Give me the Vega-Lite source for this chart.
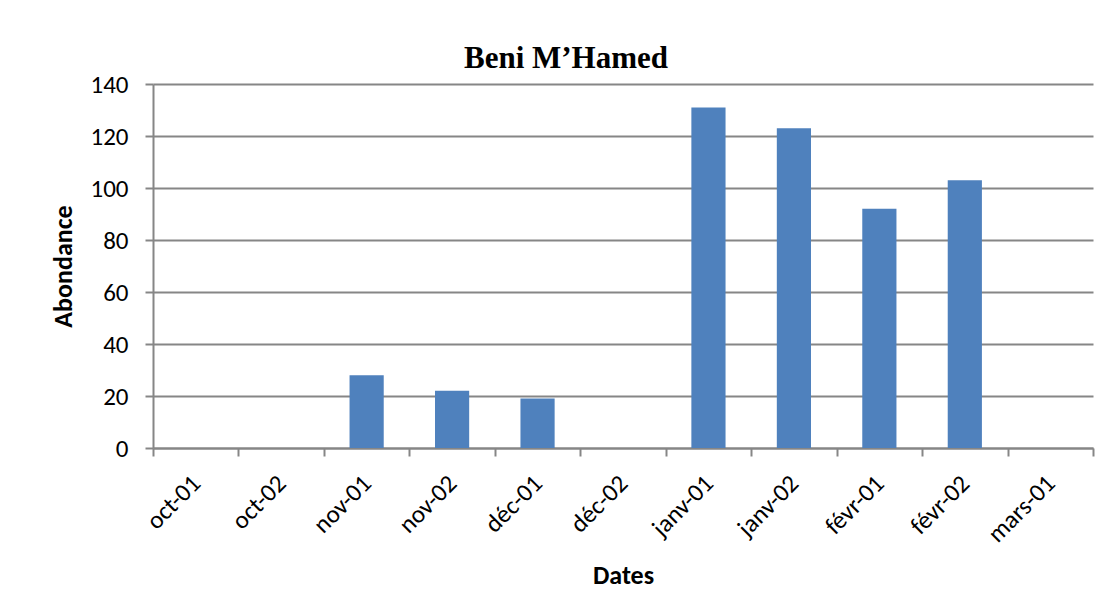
{
  "$schema": "https://vega.github.io/schema/vega-lite/v6.json",
  "width": 940,
  "height": 364,
  "autosize": {"type": "none"},
  "padding": {"left": 153, "top": 84, "right": 17, "bottom": 157},
  "background": "white",
  "title": {
    "text": "Beni M’Hamed",
    "font": "Liberation Serif",
    "fontSize": 31,
    "fontWeight": "bold",
    "color": "black",
    "anchor": "middle",
    "dx": -57,
    "offset": -3
  },
  "data": {
    "values": [
      {"date": "oct-01", "abondance": 0},
      {"date": "oct-02", "abondance": 0},
      {"date": "nov-01", "abondance": 28},
      {"date": "nov-02", "abondance": 22},
      {"date": "déc-01", "abondance": 19},
      {"date": "déc-02", "abondance": 0},
      {"date": "janv-01", "abondance": 131},
      {"date": "janv-02", "abondance": 123},
      {"date": "févr-01", "abondance": 92},
      {"date": "févr-02", "abondance": 103},
      {"date": "mars-01", "abondance": 0}
    ]
  },
  "mark": {"type": "bar", "color": "#4F81BD", "width": {"band": 0.4}},
  "encoding": {
    "x": {
      "field": "date",
      "type": "nominal",
      "sort": null,
      "scale": {"paddingInner": 0, "paddingOuter": 0},
      "axis": {
        "title": "Dates",
        "titleFont": "Carlito, Noto Sans",
        "titleFontSize": 26,
        "titleFontWeight": "bold",
        "titleColor": "black",
        "titlePadding": 16,
        "labelAngle": -45,
        "labelAlign": "right",
        "labelBaseline": "middle",
        "labelFont": "Carlito, Noto Sans",
        "labelFontSize": 25,
        "labelColor": "black",
        "labelPadding": 23,
        "tickBand": "extent",
        "ticks": true,
        "tickSize": 8,
        "tickColor": "#868686",
        "tickWidth": 2,
        "domainColor": "#868686",
        "domainWidth": 2,
        "grid": false
      }
    },
    "y": {
      "field": "abondance",
      "type": "quantitative",
      "scale": {"domain": [0, 140], "nice": false},
      "axis": {
        "title": "Abondance",
        "titleFont": "Carlito, Noto Sans",
        "titleFontSize": 26,
        "titleFontWeight": "bold",
        "titleColor": "black",
        "titlePadding": 13,
        "values": [0, 20, 40, 60, 80, 100, 120, 140],
        "labelFont": "Carlito, Noto Sans",
        "labelFontSize": 25,
        "labelColor": "black",
        "labelPadding": 17,
        "tickSize": 8,
        "tickColor": "#868686",
        "tickWidth": 2,
        "domainColor": "#868686",
        "domainWidth": 2,
        "grid": true,
        "gridColor": "#868686",
        "gridWidth": 2
      }
    }
  },
  "config": {
    "view": {"stroke": null}
  }
}
